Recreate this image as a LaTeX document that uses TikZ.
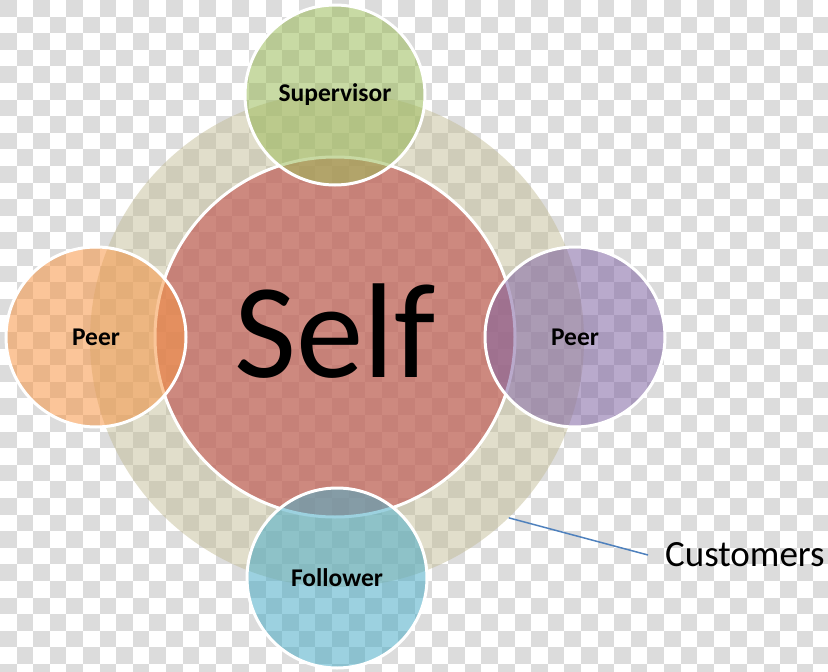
\documentclass[tikz,border=0pt]{standalone}
\usepackage{fontspec}
\setmainfont{Carlito}
\usepackage{xcolor}

\definecolor{chkgray}{RGB}{220,220,220}
\definecolor{selfred}{RGB}{192,80,77}
\definecolor{supgreen}{RGB}{155,187,89}
\definecolor{peerorange}{RGB}{247,150,70}
\definecolor{peerpurple}{RGB}{128,100,162}
\definecolor{folblue}{RGB}{75,172,198}
\definecolor{custtan}{RGB}{196,189,151}
\definecolor{leaderblue}{RGB}{79,129,189}

\begin{document}
\begin{tikzpicture}[x=1pt,y=-1pt,
    bubble/.style={circle,draw=white,line width=3pt,fill opacity=0.55,text opacity=1,
      inner sep=0pt,minimum size=180pt,font=\bfseries\fontsize{25.5}{28}\selectfont}]
  \useasboundingbox (0,0) rectangle (828,672);
  % transparent background checks
  \foreach \i in {0,...,49}
    \foreach \j in {0,...,40}{
      \pgfmathtruncatemacro\k{mod(\i+\j,2)}
      \ifnum\k=0 \fill[chkgray] (\i*16.6,\j*16.6) rectangle ++(16.6,16.6); \fi
    }
  \node [circle,fill=custtan,fill opacity=0.5,inner sep=0pt,minimum size=494pt] (ring) at (337,340) {};
  \node [bubble,fill=selfred,fill opacity=0.6,minimum size=360pt,font=\fontsize{135}{140}\selectfont] (self) at (335,337) {\raisebox{12pt}{Self}};
  \node [bubble,fill=supgreen] (sup) at (335,95) {Supervisor};
  \node [bubble,fill=peerorange] (peerl) at (96,337) {Peer};
  \node [bubble,fill=peerpurple] (peerr) at (575,337) {Peer};
  \node [bubble,fill=folblue] (fol) at (337,578) {Follower};
  \node [anchor=west,inner sep=0pt,font=\fontsize{37}{40}\selectfont] (cust) at (665,555) {Customers};
  \draw [leaderblue,line width=1.5pt] (ring.-46) -- ([xshift=-17pt]cust.west);
\end{tikzpicture}
\end{document}
